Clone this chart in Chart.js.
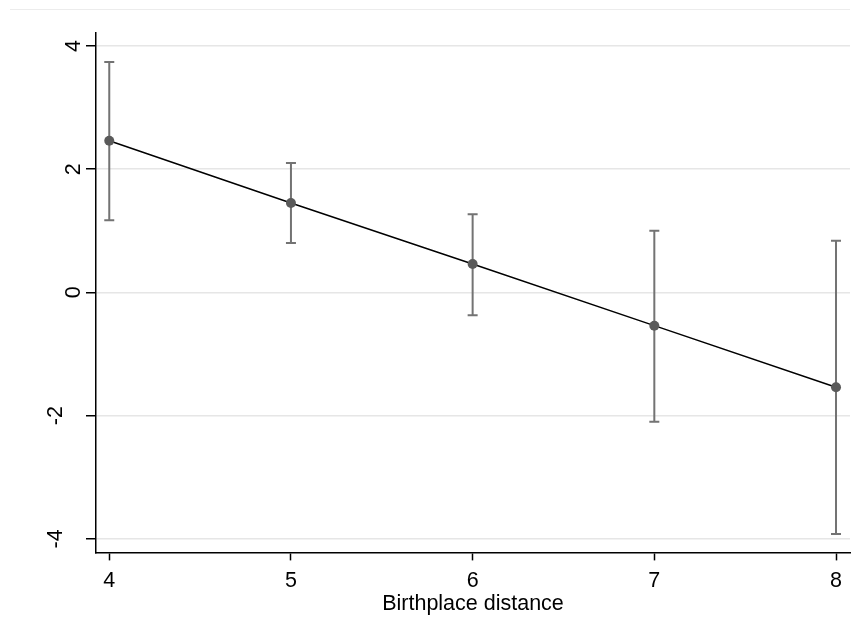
<!DOCTYPE html>
<html>
<head>
<meta charset="utf-8">
<script src="https://cdn.jsdelivr.net/npm/chart.js@4"></script>
<style>
  html, body { margin: 0; padding: 0; background: #fff; }
  #wrap { width: 860px; height: 632px; }
</style>
</head>
<body>
<div id="wrap"><canvas id="myChart" width="860" height="632"></canvas></div>
<script>
// data
let distance = [4, 5, 6, 7, 8]
let estimate = [2.46, 1.45, 0.46, -0.54, -1.54]
let ciLow    = [1.17, 0.80, -0.37, -2.10, -3.92]
let ciHigh   = [3.74, 2.10, 1.27, 1.00, 0.84]
let xTicks = [4, 5, 6, 7, 8]
let yTicks = [-4, -2, 0, 2, 4]
let xTitle = 'Birthplace distance'

let fontFam = '"Liberation Sans", Arial, sans-serif'
let fontSize = 21.5

// error bars drawn under the line and markers
let errorBars = {
  id: 'errorBars',
  beforeDatasetsDraw(chart) {
    let ctx = chart.ctx
    let xs = chart.scales.x, ys = chart.scales.y
    ctx.save()
    ctx.strokeStyle = '#737373'
    ctx.lineWidth = 2
    for (let i = 0; i < distance.length; i++) {
      let px = xs.getPixelForValue(distance[i])
      let top = ys.getPixelForValue(ciHigh[i])
      let bot = ys.getPixelForValue(ciLow[i])
      ctx.beginPath()
      ctx.moveTo(px, top); ctx.lineTo(px, bot)
      ctx.moveTo(px - 5, top); ctx.lineTo(px + 5, top)
      ctx.moveTo(px - 5, bot); ctx.lineTo(px + 5, bot)
      ctx.stroke()
    }
    ctx.restore()
  }
}

// stata style rotated y labels + faint outer frame line
let yLabels = {
  id: 'yLabels',
  afterDraw(chart) {
    let ctx = chart.ctx
    let ys = chart.scales.y
    ctx.save()
    ctx.strokeStyle = '#ececec'
    ctx.lineWidth = 1
    ctx.beginPath()
    ctx.moveTo(10, 9.5); ctx.lineTo(850, 9.5)
    ctx.stroke()

    ctx.fillStyle = '#000'
    ctx.font = fontSize + 'px ' + fontFam
    ctx.textAlign = 'center'
    ctx.textBaseline = 'alphabetic'
    yTicks.forEach(v => {
      let py = ys.getPixelForValue(v)
      let bx = v < 0 ? 62 : 80
      ctx.save()
      ctx.translate(bx, py)
      ctx.rotate(-Math.PI / 2)
      ctx.fillText(String(v), 0, 0)
      ctx.restore()
    })
    ctx.restore()
  }
}

let ctx = document.getElementById('myChart').getContext('2d')
let myChart = new Chart(ctx, {
  type: 'scatter',
  data: {
    datasets: [{
      label: 'estimate',
      data: distance.map((d, i) => ({ x: d, y: estimate[i] })),
      showLine: true,
      borderColor: '#000',
      borderWidth: 1.5,
      pointRadius: 5,
      pointHoverRadius: 5,
      pointBackgroundColor: '#5a5a5a',
      pointBorderColor: '#5a5a5a',
      pointBorderWidth: 0
    }]
  },
  options: {
    responsive: false,
    animation: false,
    events: [],
    layout: { padding: { left: 86, right: 10, top: 33, bottom: 15 } },
    plugins: { legend: { display: false }, tooltip: { enabled: false } },
    scales: {
      x: {
        type: 'linear',
        min: 3.927,
        max: 8.077,
        afterBuildTicks: s => { s.ticks = xTicks.map(v => ({ value: v })) },
        grid: { drawOnChartArea: false, tickColor: '#000', tickLength: 8, tickWidth: 1.5 },
        border: { color: '#000', width: 1.5 },
        ticks: { color: '#000', padding: 8, maxRotation: 0, font: { size: fontSize, family: fontFam } },
        title: { display: true, text: xTitle, color: '#000', padding: { top: -11, bottom: 0 }, font: { size: fontSize, family: fontFam } }
      },
      y: {
        type: 'linear',
        min: -4.22,
        max: 4.21,
        afterBuildTicks: s => { s.ticks = yTicks.map(v => ({ value: v })) },
        grid: { color: '#e6e6e6', lineWidth: 1.5, tickColor: '#000', tickLength: 10, tickWidth: 1.5 },
        border: { color: '#000', width: 1.5 },
        ticks: { display: false }
      }
    }
  },
  plugins: [errorBars, yLabels]
})
</script>
</body>
</html>
